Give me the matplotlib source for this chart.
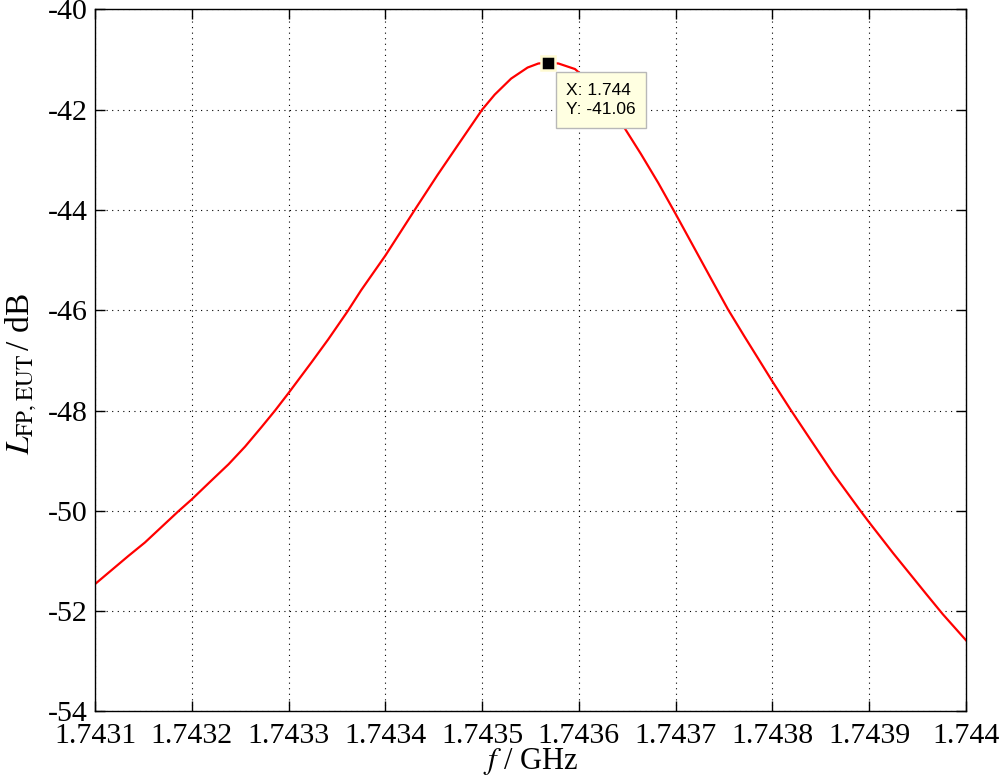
import matplotlib
matplotlib.use('Agg')
import matplotlib.pyplot as plt

# readings (GHz, dB)
freq = [1.7431000, 1.7431172, 1.7431344, 1.7431516, 1.7431688, 1.7431860,
        1.7432000, 1.7432200, 1.7432380, 1.7432550, 1.7432720, 1.7432860,
        1.7433000, 1.7433240, 1.7433410, 1.7433610, 1.7433750, 1.7434000,
        1.7434160, 1.7434320, 1.7434540, 1.7434780, 1.7435000, 1.7435130,
        1.7435300, 1.7435470, 1.7435580, 1.7435680, 1.7435790, 1.7435960,
        1.7436150, 1.7436300, 1.7436470, 1.7436640, 1.7436820, 1.7437000,
        1.7437190, 1.7437360, 1.7437540, 1.7437710, 1.7438000, 1.7438190,
        1.7438390, 1.7438630, 1.7438910, 1.7439000, 1.7439250, 1.7439460,
        1.7439590, 1.7439760, 1.7440000]
level = [-51.46, -51.18, -50.90, -50.63, -50.32, -50.01,
         -49.77, -49.40, -49.07, -48.72, -48.33, -48.00,
         -47.65, -47.03, -46.58, -46.02, -45.60, -44.91,
         -44.43, -43.95, -43.30, -42.62, -42.00, -41.70,
         -41.38, -41.16, -41.08, -41.06, -41.08, -41.19,
         -41.52, -41.88, -42.36, -42.88, -43.46, -44.08,
         -44.75, -45.35, -45.98, -46.52, -47.42, -47.99,
         -48.57, -49.26, -50.00, -50.23, -50.85, -51.35,
         -51.66, -52.06, -52.58]

peak_f = 1.7435680
peak_l = -41.06

xticks = [1.7431, 1.7432, 1.7433, 1.7434, 1.7435, 1.7436, 1.7437, 1.7438, 1.7439, 1.744]
xlabels = ['1.7431', '1.7432', '1.7433', '1.7434', '1.7435', '1.7436', '1.7437',
           '1.7438', '1.7439', '1.744']
yticks = [-54, -52, -50, -48, -46, -44, -42, -40]
ylabels = ['-54', '-52', '-50', '-48', '-46', '-44', '-42', '-40']

plt.rcParams['font.family'] = ['Liberation Serif', 'DejaVu Serif']
plt.rcParams['mathtext.fontset'] = 'stix'

fig = plt.figure(figsize=(10, 7.81), dpi=100)
ax = fig.add_axes([0.095, 0.089, 0.871, 0.899])

ax.plot(freq, level, color='red', lw=1.6)

ax.set_xlim(1.7431, 1.744)
ax.set_ylim(-54, -40)
ax.set_xticks(xticks)
ax.set_xticklabels(xlabels)
ax.set_yticks(yticks)
ax.set_yticklabels(ylabels)
ax.tick_params(direction='in', length=7, width=1, labelsize=21.5,
               top=True, right=True)
ax.tick_params(axis='x', pad=8)
ax.tick_params(axis='y', pad=5)
for s in ax.spines.values():
    s.set_linewidth(1)
ax.grid(True, color='black', linestyle=(0, (1, 4)), linewidth=0.8)

ax.set_xlabel('$f$ / GHz', fontsize=22, labelpad=-2)
ax.set_ylabel('$L_{\\mathrm{FP,EUT}}\\,$/ dB', fontsize=24)
ax.yaxis.set_label_coords(-0.064, 0.48)

# data tip
ax.plot([peak_f], [peak_l], 's', color='black', ms=10.5,
        mec='#fffbd2', mew=1.8, zorder=5)
ax.annotate('X: 1.744\nY: -41.06', xy=(peak_f, peak_l),
            xycoords='data', textcoords='offset pixels', xytext=(18, -20),
            ha='left', va='top', fontsize=12.5, family='Liberation Sans',
            linespacing=1.4, zorder=6,
            bbox=dict(boxstyle='square,pad=0.6', fc='#ffffe1', ec='#b8b8b8', lw=1))

fig.savefig('out.png', dpi=100)
